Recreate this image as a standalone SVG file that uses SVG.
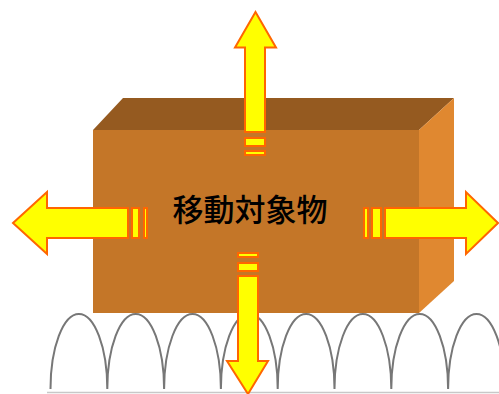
<svg xmlns="http://www.w3.org/2000/svg" width="499" height="394" viewBox="0 0 499 394">
  <style>
    .arch { fill: none; stroke: #777777; stroke-width: 2; }
    .arrow { fill: #FFFF00; stroke: #FF6600; stroke-width: 2; stroke-linejoin: miter; }
    .label { font-family: "Noto Sans CJK JP", "Noto Sans CJK SC", sans-serif; font-size: 31px; font-weight: 500; fill: #000000; text-anchor: middle; }
  </style>

  <!-- ground: row of arches on a baseline -->
  <g id="ground">
    <line x1="47" y1="392.5" x2="499" y2="392.5" stroke="#C8C8C8" stroke-width="1.5"/>
    <path class="arch" d="M50.5,389 A28.4,75 0 0 1 107.3,389 A28.4,75 0 0 1 164.1,389 A28.4,75 0 0 1 220.9,389 A28.4,75 0 0 1 277.7,389 A28.4,75 0 0 1 334.5,389 A28.4,75 0 0 1 391.3,389 A28.4,75 0 0 1 448.1,389 A28.4,75 0 0 1 504.9,389"/>
  </g>

  <!-- moving object: box -->
  <g id="box">
    <polygon points="93,130 123,98 454,98 419,130" fill="#955A20"/>
    <polygon points="419,130 454,98 454,281 419,313" fill="#E08830"/>
    <rect x="93" y="130" width="326" height="183" fill="#C47628"/>
    <text class="label" x="250" y="221">移動対象物</text>
  </g>

  <!-- force arrows -->
  <g id="connectors">
    <g id="arrow-up">
      <polygon class="arrow" points="255.5,12 276,47.5 265,47.5 265,132 245,132 245,47.5 235,47.5"/>
      <rect class="arrow" x="245" y="138" width="20" height="8"/>
      <rect class="arrow" x="245" y="151" width="20" height="4"/>
    </g>
    <g id="arrow-left">
      <polygon class="arrow" points="13,223 47,192 47,208 128,208 128,238 47,238 47,254"/>
      <rect class="arrow" x="132" y="208" width="7" height="30"/>
      <rect class="arrow" x="144" y="208" width="3" height="30"/>
    </g>
    <g id="arrow-right">
      <polygon class="arrow" points="498,223 466,192 466,208 385,208 385,238 466,238 466,254"/>
      <rect class="arrow" x="372" y="208" width="9" height="30"/>
      <rect class="arrow" x="364" y="208" width="4" height="30"/>
    </g>
    <g id="arrow-down">
      <rect class="arrow" x="238" y="253" width="20" height="4"/>
      <rect class="arrow" x="238" y="263" width="20" height="8"/>
      <polygon class="arrow" points="248,394 268,361 258,361 258,276 238,276 238,361 227,361"/>
    </g>
  </g>
</svg>
